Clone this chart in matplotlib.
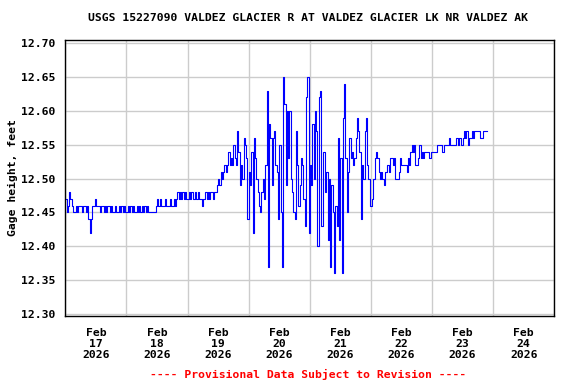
import pandas as pd
import matplotlib
matplotlib.use("Agg")
import matplotlib.pyplot as plt
import matplotlib.dates as mdates

# Gage height, feet -- 30 minute readings starting Feb 17 2026 00:00
feb17 = [12.47, 12.45, 12.46, 12.48, 12.47, 12.46, 12.45, 12.45, 12.46, 12.45,
         12.46, 12.46, 12.46, 12.45, 12.46, 12.46, 12.45, 12.46, 12.44, 12.42,
         12.44, 12.46, 12.46, 12.47, 12.46, 12.46, 12.46, 12.45, 12.46, 12.46,
         12.45, 12.46, 12.45, 12.46, 12.46, 12.45, 12.46, 12.45, 12.45, 12.46,
         12.45, 12.45, 12.46, 12.45, 12.46, 12.45, 12.46, 12.45]
feb18 = [12.45, 12.46, 12.45, 12.46, 12.45, 12.46, 12.45, 12.45, 12.46, 12.45,
         12.46, 12.45, 12.46, 12.45, 12.46, 12.45, 12.46, 12.45, 12.45, 12.45,
         12.45, 12.45, 12.45, 12.46, 12.47, 12.46, 12.47, 12.46, 12.46, 12.46,
         12.47, 12.46, 12.46, 12.46, 12.47, 12.46, 12.46, 12.47, 12.46, 12.47,
         12.48, 12.47, 12.48, 12.47, 12.48, 12.47, 12.48, 12.47]
feb19 = [12.47, 12.48, 12.47, 12.48, 12.47, 12.47, 12.48, 12.47, 12.48, 12.47,
         12.47, 12.46, 12.47, 12.47, 12.48, 12.47, 12.48, 12.47, 12.48, 12.48,
         12.47, 12.48, 12.48, 12.49, 12.50, 12.49, 12.51, 12.50, 12.51, 12.52,
         12.51, 12.52, 12.54, 12.52, 12.53, 12.52, 12.55, 12.53, 12.52, 12.57,
         12.54, 12.49, 12.52, 12.50, 12.56, 12.55, 12.53, 12.44]
feb20 = [12.51, 12.49, 12.54, 12.42, 12.56, 12.53, 12.50, 12.48, 12.46, 12.45,
         12.48, 12.50, 12.47, 12.52, 12.63, 12.37, 12.58, 12.56, 12.49, 12.56,
         12.57, 12.52, 12.51, 12.44, 12.55, 12.45, 12.37, 12.65, 12.61, 12.49,
         12.60, 12.53, 12.60, 12.50, 12.48, 12.45, 12.44, 12.57, 12.52, 12.46,
         12.49, 12.53, 12.52, 12.47, 12.43, 12.62, 12.65, 12.42]
feb21 = [12.52, 12.49, 12.58, 12.50, 12.60, 12.57, 12.40, 12.62, 12.63, 12.43,
         12.54, 12.54, 12.48, 12.51, 12.41, 12.50, 12.37, 12.49, 12.45, 12.36,
         12.46, 12.43, 12.56, 12.41, 12.53, 12.36, 12.59, 12.64, 12.53, 12.45,
         12.51, 12.56, 12.53, 12.54, 12.52, 12.53, 12.56, 12.59, 12.57, 12.54,
         12.44, 12.52, 12.50, 12.57, 12.59, 12.52, 12.50, 12.46]
feb22 = [12.46, 12.47, 12.50, 12.53, 12.54, 12.53, 12.51, 12.50, 12.51, 12.50,
         12.49, 12.51, 12.51, 12.52, 12.51, 12.53, 12.53, 12.52, 12.53, 12.50,
         12.50, 12.50, 12.51, 12.53, 12.52, 12.52, 12.52, 12.52, 12.51, 12.53,
         12.52, 12.54, 12.55, 12.54, 12.55, 12.52, 12.52, 12.53, 12.55, 12.53,
         12.54, 12.53, 12.54, 12.54, 12.54, 12.54, 12.53, 12.54]
feb23 = [12.54, 12.54, 12.54, 12.54, 12.55, 12.55, 12.55, 12.55, 12.54, 12.55,
         12.55, 12.55, 12.55, 12.56, 12.55, 12.55, 12.55, 12.55, 12.55, 12.56,
         12.55, 12.56, 12.56, 12.55, 12.56, 12.57, 12.56, 12.57, 12.55, 12.56,
         12.56, 12.57, 12.56, 12.57, 12.57, 12.57, 12.57, 12.57, 12.56, 12.56,
         12.57, 12.57, 12.57, 12.57]

gage = feb17 + feb18 + feb19 + feb20 + feb21 + feb22 + feb23
times = pd.date_range("2026-02-17 00:00", periods=len(gage), freq="30min")

mono = "DejaVu Sans Mono"
fs = 8.2
fig = plt.figure(figsize=(5.76, 3.84), dpi=100)
ax = fig.add_axes([0.1134, 0.178, 0.8489, 0.7186])

ax.plot(times, gage, color="#0000ff", lw=0.8, drawstyle="steps-post")

ax.set_xlim(pd.Timestamp("2026-02-17"), pd.Timestamp("2026-02-25"))
ax.set_ylim(12.2975, 12.7053)
ax.set_yticks([12.30, 12.35, 12.40, 12.45, 12.50, 12.55, 12.60, 12.65, 12.70])
ax.yaxis.set_major_formatter(matplotlib.ticker.FormatStrFormatter("%.2f"))

# labels at noon, grid lines at midnight
ax.xaxis.set_major_locator(mdates.HourLocator(byhour=12))
ax.xaxis.set_major_formatter(mdates.DateFormatter("%b\n%d\n%Y"))
ax.xaxis.set_minor_locator(mdates.DayLocator())
ax.grid(True, which="minor", axis="x", color="#cccccc", lw=1)
ax.grid(True, which="major", axis="y", color="#cccccc", lw=1)
ax.set_axisbelow(True)

ax.tick_params(axis="both", which="both", length=0)
ax.tick_params(axis="x", pad=9)
ax.tick_params(axis="y", pad=7)
for lab in ax.get_xticklabels():
    lab.set_fontfamily(mono)
    lab.set_fontweight("bold")
    lab.set_fontsize(fs)
    lab.set_linespacing(1.1)
for lab in ax.get_yticklabels():
    lab.set_fontfamily(mono)
    lab.set_fontweight("bold")
    lab.set_fontsize(fs)

for sp in ax.spines.values():
    sp.set_color("black")
    sp.set_linewidth(1)

ax.set_ylabel("Gage height, feet", fontfamily=mono, fontweight="bold",
              fontsize=fs, labelpad=2)
fig.text(0.535, 0.953, "USGS 15227090 VALDEZ GLACIER R AT VALDEZ GLACIER LK NR VALDEZ AK",
         ha="center", va="center", fontfamily=mono, fontweight="bold", fontsize=fs)
fig.text(0.535, 0.024, "---- Provisional Data Subject to Revision ----",
         ha="center", va="center", fontfamily=mono, fontweight="bold",
         fontsize=fs, color="red")

fig.savefig("out.png", dpi=100)
